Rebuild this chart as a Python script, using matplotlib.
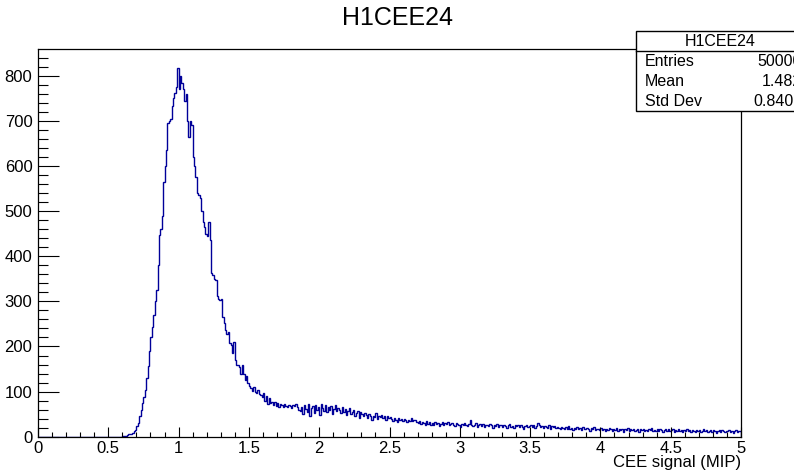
#!/usr/bin/env python3
"""
ROOT-style 1D histogram H1CEE24 (CEE signal in MIP units), redrawn with matplotlib.
Writes out.png (794x472).
"""

import numpy as np
import matplotlib
matplotlib.use("Agg")
import matplotlib.pyplot as plt
from matplotlib.patches import Rectangle
from matplotlib.lines import Line2D
from matplotlib.ticker import MultipleLocator, FuncFormatter

plt.rcParams["font.family"] = ["Liberation Sans", "DejaVu Sans"]

# ─────────────────────────────────────────────────────────────────────────────
X_MIN, X_MAX, N_BINS = 0.0, 5.0, 500

# bin contents, 0.01 wide bins (10 bins per row)
COUNTS = [
    0, 0, 0, 0, 0, 0, 0, 0, 0, 0,                 # 0.00
    0, 0, 0, 0, 0, 0, 0, 0, 0, 0,
    0, 0, 0, 0, 0, 0, 0, 0, 0, 0,
    0, 0, 0, 0, 0, 0, 0, 0, 0, 0,
    0, 0, 0, 0, 0, 0, 0, 0, 0, 0,
    0, 0, 0, 0, 0, 0, 0, 0, 0, 0,
    1, 2, 1, 3, 5, 7, 6, 9, 12, 14,               # 0.60
    24, 31, 45, 60, 75, 89, 104, 130, 157, 190,
    222, 244, 270, 300, 326, 380, 448, 460, 489, 565,
    600, 636, 696, 700, 704, 734, 750, 763, 775, 818,
    770, 800, 785, 770, 745, 760, 700, 665, 700, 690,   # 1.00
    620, 600, 575, 540, 535, 530, 500, 475, 466, 450,
    445, 476, 437, 363, 359, 350, 348, 311, 306, 304,
    305, 265, 252, 237, 228, 232, 208, 204, 185, 210,
    170, 158, 160, 155, 140, 158, 138, 126, 135, 118,
    112, 108, 102, 110, 100, 97, 104, 95, 92, 88,       # 1.50
    96, 80, 90, 72, 85, 75, 78, 70, 76, 68,
    74, 66, 72, 70, 65, 73, 68, 66, 71, 69,
    64, 70, 67, 72, 65, 60, 58, 66, 50, 70,
    62, 55, 72, 45, 64, 68, 52, 70, 60, 66,
    48, 72, 63, 58, 70, 55, 65, 60, 68, 50,             # 2.00
    62, 70, 57, 64, 60, 52, 66, 55, 62, 48,
    58, 64, 50, 55, 60, 45, 52, 58, 42, 55,
    50, 47, 53, 48, 42, 50, 45, 38, 47, 44,
    52, 40, 46, 43, 49, 41, 45, 38, 47, 42,
    44, 40, 35, 42, 38, 33, 41, 36, 39, 34,             # 2.50
    40, 37, 32, 38, 35, 41, 34, 36, 38, 33,
    31, 35, 28, 33, 30, 26, 34, 29, 32, 27,
    30, 25, 33, 28, 31, 24, 29, 32, 26, 30,
    28, 33, 25, 29, 31, 27, 24, 30, 28, 26,
    22, 29, 25, 31, 27, 23, 28, 38, 26, 24,             # 3.00
    27, 30, 22, 26, 29, 24, 28, 21, 27, 25,
    23, 28, 25, 20, 26, 24, 29, 22, 25, 27,
    21, 26, 24, 19, 25, 28, 22, 24, 20, 26,
    23, 25, 21, 27, 22, 18, 24, 26, 21, 23,
    25, 22, 27, 20, 24, 31, 26, 21, 23, 19,             # 3.50
    24, 22, 20, 25, 18, 23, 21, 24, 19, 22,
    20, 17, 22, 19, 16, 21, 18, 23, 17, 19,
    15, 20, 18, 22, 16, 19, 14, 21, 17, 18,
    20, 16, 13, 19, 17, 21, 15, 18, 16, 14,
    19, 15, 17, 12, 18, 14, 20, 16, 13, 17,             # 4.00
    15, 19, 12, 16, 14, 18, 11, 17, 15, 20,
    13, 16, 14, 18, 12, 15, 17, 11, 16, 14,
    18, 13, 15, 12, 17, 14, 19, 12, 15, 13,
    16, 12, 17, 14, 11, 15, 18, 13, 16, 12,
    14, 17, 11, 15, 13, 16, 12, 14, 10, 15,             # 4.50
    13, 16, 12, 14, 11, 15, 13, 10, 14, 12,
    15, 11, 13, 16, 12, 14, 10, 13, 15, 11,
    14, 12, 9, 13, 15, 11, 14, 12, 10, 13,
    12, 14, 11, 13, 9, 12, 15, 10, 13, 12,
]

HIST_NAME    = "H1CEE24"
X_LABEL      = "CEE signal (MIP)"
STATS_LABELS = ["Entries", "Mean", "Std Dev"]
STATS_VALUES = ["50000", "1.482", "0.8402"]
LINE_COLOR   = "#000099"
# ─────────────────────────────────────────────────────────────────────────────

W, H = 794, 472


def fx(px):
    return px / W


def fy(py):
    return 1.0 - py / H


def main() -> None:
    fig = plt.figure(figsize=(W / 100, H / 100), dpi=100)
    ax = fig.add_axes([fx(38), fy(436.7), fx(741) - fx(38), fy(49.3) - fy(436.7)])

    edges = np.linspace(X_MIN, X_MAX, N_BINS + 1)
    ax.stairs(COUNTS, edges, color=LINE_COLOR, lw=1.0, baseline=0)

    ax.set_xlim(X_MIN, X_MAX)
    ax.set_ylim(0, max(COUNTS) * 1.05)

    ax.xaxis.set_major_locator(MultipleLocator(0.5))
    ax.xaxis.set_minor_locator(MultipleLocator(0.1))
    ax.yaxis.set_major_locator(MultipleLocator(100))
    ax.yaxis.set_minor_locator(MultipleLocator(20))
    ax.xaxis.set_major_formatter(FuncFormatter(lambda v, _: f"{v:g}"))
    ax.yaxis.set_major_formatter(FuncFormatter(lambda v, _: f"{v:g}"))

    ax.tick_params(which="both", direction="in", top=False, right=False,
                   color="black", width=0.8)
    ax.tick_params(axis="x", which="major", length=7.5, labelsize=12, pad=3)
    ax.tick_params(axis="x", which="minor", length=3.7)
    ax.tick_params(axis="y", which="major", length=15, labelsize=12, pad=4)
    ax.tick_params(axis="y", which="minor", length=7.5)
    for sp in ax.spines.values():
        sp.set_linewidth(0.9)

    # title + axis label, ROOT places the x title at the right end
    fig.text(0.5, fy(18), HIST_NAME, ha="center", va="center", fontsize=18)
    fig.text(fx(741), fy(462), X_LABEL, ha="right", va="center", fontsize=12)

    # stats box (runs past the right edge of the canvas, as in ROOT)
    box_l, box_r, box_t, box_b = 636, 806, 31.5, 111
    fig.add_artist(Rectangle((fx(box_l), fy(box_b)), fx(box_r) - fx(box_l),
                             (box_b - box_t) / H, transform=fig.transFigure,
                             facecolor="white", edgecolor="black", lw=1.0,
                             zorder=5))
    fig.add_artist(Line2D([fx(box_l), fx(box_r)], [fy(50.5), fy(50.5)],
                          transform=fig.transFigure, color="black", lw=1.0,
                          zorder=6))
    fig.text(fx(720), fy(41), HIST_NAME, ha="center",
             va="center", fontsize=11.5, zorder=7)
    for i, (lab, val) in enumerate(zip(STATS_LABELS, STATS_VALUES)):
        y = fy(61.5 + 20 * i)
        fig.text(fx(645), y, lab, ha="left", va="center", fontsize=11.5, zorder=7)
        fig.text(fx(802), y, val, ha="right", va="center", fontsize=11.5, zorder=7)

    fig.savefig("out.png", dpi=100)
    plt.close(fig)


if __name__ == "__main__":
    main()
